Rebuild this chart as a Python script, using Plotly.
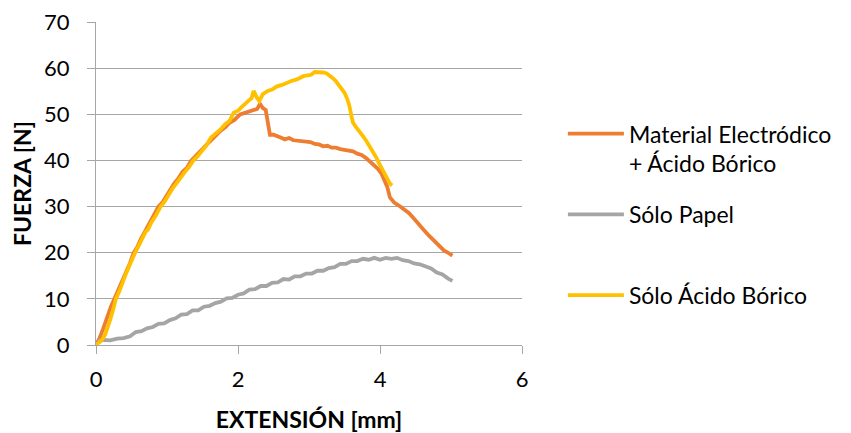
import plotly.graph_objects as go

# Material Electródico + Ácido Bórico
orange_x = [0, 0.05, 0.1, 0.14, 0.17, 0.21, 0.26, 0.3, 0.35, 0.4,
            0.44, 0.48, 0.53, 0.58, 0.63, 0.7, 0.75, 0.8, 0.88, 0.94,
            1.0, 1.05, 1.1, 1.16, 1.22, 1.28, 1.34, 1.4, 1.46, 1.52,
            1.58, 1.64, 1.7, 1.75, 1.82, 1.88, 1.95, 2.03, 2.1, 2.16,
            2.22, 2.27, 2.31, 2.35, 2.39, 2.42, 2.45, 2.5, 2.55, 2.6,
            2.66, 2.72, 2.78, 2.84, 2.9, 2.96, 3.02, 3.08, 3.14, 3.2,
            3.26, 3.32, 3.38, 3.44, 3.5, 3.56, 3.62, 3.68, 3.74, 3.8,
            3.86, 3.92, 3.97, 4.02, 4.06, 4.1, 4.14, 4.2, 4.27, 4.34,
            4.41, 4.48, 4.55, 4.62, 4.69, 4.76, 4.83, 4.9, 4.96, 5.02]
orange_f = [0, 1.5, 3.5, 5.4, 6.5, 8.3, 10.0, 11.4, 13.3, 15.0,
            16.4, 17.8, 20.0, 21.2, 22.9, 25.0, 26.2, 27.6, 30.0, 31.0,
            32.5, 33.6, 35.0, 36.1, 37.6, 38.4, 40.0, 40.9, 42.0, 42.8,
            43.8, 44.6, 45.6, 46.4, 47.2, 48.2, 48.8, 50.0, 50.3, 50.6,
            51.0, 51.2, 52.3, 51.4, 51.0, 48.0, 45.6, 45.6, 45.2, 45.0,
            44.6, 44.9, 44.4, 44.3, 44.2, 43.9, 44.0, 43.6, 43.5, 43.1,
            43.2, 42.8, 42.8, 42.5, 42.4, 42.1, 42.0, 41.5, 41.2, 40.6,
            39.8, 39.0, 38.2, 37.2, 36.0, 34.4, 32.0, 30.9, 30.2, 29.3,
            28.6, 27.4, 26.0, 24.9, 23.7, 22.6, 21.6, 20.5, 20.0, 19.4]

# Sólo Papel
gray_x = [0.02, 0.1, 0.2, 0.3, 0.39, 0.48, 0.56, 0.64, 0.72, 0.8,
          0.88, 0.96, 1.04, 1.12, 1.2, 1.28, 1.36, 1.44, 1.52, 1.6,
          1.68, 1.76, 1.84, 1.92, 2.0, 2.08, 2.16, 2.24, 2.32, 2.4,
          2.48, 2.56, 2.64, 2.72, 2.8, 2.88, 2.96, 3.04, 3.12, 3.2,
          3.28, 3.36, 3.44, 3.52, 3.6, 3.68, 3.76, 3.84, 3.92, 4.0,
          4.08, 4.16, 4.24, 4.32, 4.4, 4.48, 4.56, 4.64, 4.72, 4.8,
          4.88, 4.96, 5.02]
gray_f = [0.9, 1.1, 1.0, 1.4, 1.5, 1.9, 2.8, 3.0, 3.6, 3.9,
          4.6, 4.7, 5.4, 5.8, 6.6, 6.7, 7.5, 7.5, 8.3, 8.5,
          9.1, 9.4, 10.1, 10.2, 10.9, 11.2, 12.0, 12.1, 12.8, 12.8,
          13.5, 13.6, 14.3, 14.2, 14.9, 14.9, 15.5, 15.5, 16.1, 16.1,
          16.7, 16.9, 17.6, 17.6, 18.2, 18.2, 18.7, 18.5, 18.9, 18.5,
          18.9, 18.7, 18.9, 18.4, 18.2, 17.7, 17.5, 17.0, 16.6, 15.7,
          15.3, 14.4, 13.9]

# Sólo Ácido Bórico
yellow_x = [0, 0.04, 0.08, 0.13, 0.17, 0.2, 0.24, 0.28, 0.33, 0.37,
            0.41, 0.46, 0.5, 0.55, 0.6, 0.65, 0.7, 0.73, 0.78, 0.84,
            0.91, 0.97, 1.03, 1.08, 1.13, 1.19, 1.25, 1.31, 1.37, 1.43,
            1.5, 1.56, 1.62, 1.68, 1.75, 1.82, 1.88, 1.94, 2.0, 2.05,
            2.1, 2.15, 2.19, 2.22, 2.26, 2.3, 2.35, 2.42, 2.48, 2.55,
            2.62, 2.69, 2.76, 2.83, 2.92, 2.98, 3.03, 3.08, 3.14, 3.2,
            3.25, 3.29, 3.34, 3.38, 3.41, 3.46, 3.5, 3.54, 3.57, 3.6,
            3.62, 3.66, 3.71, 3.76, 3.81, 3.86, 3.9, 3.95, 4.0, 4.05,
            4.1, 4.14, 4.17]
yellow_f = [0, 0.4, 1.0, 2.3, 3.9, 5.5, 7.6, 10.0, 11.7, 13.5,
            15.0, 16.8, 18.3, 20.0, 21.5, 23.2, 24.6, 25.0, 26.6, 28.0,
            30.0, 31.2, 32.9, 34.0, 35.0, 36.4, 37.5, 38.6, 40.0, 40.9,
            42.2, 43.4, 45.0, 45.7, 46.7, 47.9, 48.6, 50.4, 50.8, 51.6,
            52.4, 53.0, 53.5, 55.1, 53.8, 52.9, 54.4, 55.1, 55.4, 56.1,
            56.4, 56.9, 57.3, 57.6, 58.3, 58.5, 58.6, 59.2, 59.2, 59.1,
            58.9, 58.5, 57.8, 57.2, 56.5, 55.6, 54.7, 53.3, 51.8, 49.5,
            48.2, 47.3, 46.4, 45.3, 44.2, 43.0, 41.7, 40.6, 39.0, 37.6,
            36.0, 35.0, 34.6]

series_names = ["Material Electródico<br>+ Ácido Bórico", "Sólo Papel<br> ", "Sólo Ácido Bórico"]
x_ticks = [0, 2, 4, 6]
y_ticks = [0, 10, 20, 30, 40, 50, 60, 70]

FONT = "Lato, 'Liberation Sans', sans-serif"
GRID = "#A6A6A6"
FS = 23
TFS = 22

fig = go.Figure()
fig.add_trace(go.Scatter(x=orange_x, y=orange_f, mode="lines", name=series_names[0],
                         legendgroup="a", line=dict(color="#ED7D31", width=3.8)))
fig.add_trace(go.Scatter(x=gray_x, y=gray_f, mode="lines", name=series_names[1],
                         legendgroup="b", line=dict(color="#A5A5A5", width=3.8)))
fig.add_trace(go.Scatter(x=yellow_x, y=yellow_f, mode="lines", name=series_names[2],
                         legendgroup="c", line=dict(color="#FFC000", width=3.8)))

# page body has an 8px default margin, so the figure is 8px smaller and margins shifted
fig.update_layout(
    width=843, height=425,
    margin=dict(l=88, r=329, t=14, b=88),
    paper_bgcolor="white", plot_bgcolor="white",
    font=dict(family=FONT, size=FS, color="#000000"),
    showlegend=True,
    legend=dict(x=1.096, xanchor="left", y=0.721, yanchor="top", valign="top",
                tracegroupgap=18, itemwidth=56, bgcolor="rgba(0,0,0,0)",
                font=dict(family=FONT, size=FS, color="#000000")),
    xaxis=dict(range=[0, 6], tickvals=x_ticks, showgrid=False, zeroline=False, automargin=False,
               showline=True, linecolor=GRID, linewidth=1.3,
               ticks="outside", ticklen=8, tickcolor=GRID, tickwidth=1.3,
               tickfont=dict(family=FONT, size=TFS), ticklabelstandoff=6,
               title=dict(text="<b>EXTENSIÓN [mm]</b>", font=dict(family=FONT, size=FS), standoff=23)),
    yaxis=dict(range=[0, 70.05], tickvals=y_ticks, showgrid=True, gridcolor=GRID, gridwidth=1.3,
               zeroline=False, showline=True, linecolor=GRID, linewidth=1.3, automargin=False,
               ticks="outside", ticklen=8, tickcolor=GRID, tickwidth=1.3,
               ticklabeloverflow="allow",
               tickfont=dict(family=FONT, size=TFS), ticklabelstandoff=13,
               title=dict(text="<b>FUERZA [N]</b>", font=dict(family=FONT, size=FS), standoff=11)),
)

fig.write_html("out.html")
